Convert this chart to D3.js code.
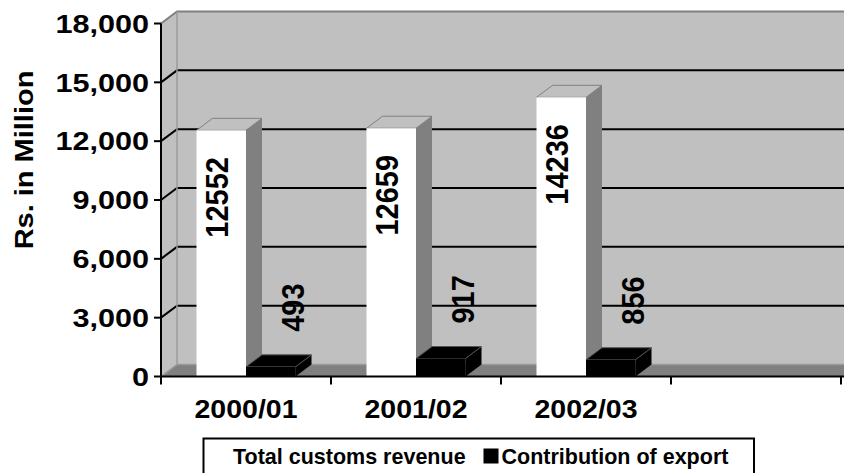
<!DOCTYPE html>
<html>
<head>
<meta charset="utf-8">
<script src="https://cdn.jsdelivr.net/npm/d3@7"></script>
<style>
  html, body { margin: 0; padding: 0; background: #fff; }
  svg { display: block; font-family: "Liberation Sans", Arial, sans-serif; font-weight: bold; }
</style>
</head>
<body>
<svg id="chart" width="844" height="473"></svg>
<script>
// Customs revenue by fiscal year (Rs. in Million)
const categories = ["2000/01", "2001/02", "2002/03"];
const totalRevenue = [12552, 12659, 14236];
const exportContribution = [493, 917, 856];
const seriesNames = ["Total customs revenue", "Contribution of export"];
const yTicks = [0, 3000, 6000, 9000, 12000, 15000, 18000];

const svg = d3.select("#chart");

// Plot frame (front plane) and 3D depth offset
const plotLeft = 161, plotRight = 841, plotTop = 23.5, plotBottom = 376.5;
const depthX = 16, depthY = -12;
const wallGray = "#C0C0C0", darkGray = "#808080";

// The category axis reserves one extra, unused slot on the right.
const x = d3.scaleBand().domain(categories.concat([" "])).range([plotLeft, plotRight]).padding(0);
const y = d3.scaleLinear().domain([0, 18000]).range([plotBottom, plotTop]);
const barW = 49.5;

const poly = pts => "M" + pts.map(p => p.join(",")).join("L") + "Z";

// Back wall
svg.append("path")
  .attr("d", poly([[plotLeft + depthX, plotTop + depthY], [plotRight + depthX + 20, plotTop + depthY],
                   [plotRight + depthX + 20, plotBottom + depthY], [plotLeft + depthX, plotBottom + depthY]]))
  .attr("fill", wallGray);
// Side wall
svg.append("path")
  .attr("d", poly([[plotLeft, plotTop], [plotLeft + depthX, plotTop + depthY], [plotLeft + depthX, plotBottom + depthY], [plotLeft, plotBottom]]))
  .attr("fill", wallGray);
// Floor
svg.append("path")
  .attr("d", poly([[plotLeft, plotBottom], [plotRight + 20, plotBottom], [plotRight + depthX + 20, plotBottom + depthY], [plotLeft + depthX, plotBottom + depthY]]))
  .attr("fill", darkGray);

// Gridlines across side wall and back wall
const grid = yTicks.filter(v => v > 0 && v < 18000);
svg.append("g").selectAll("path").data(grid).join("path")
  .attr("d", v => `M${plotLeft},${y(v)}L${plotLeft + depthX},${y(v) + depthY}L${plotRight + depthX + 20},${y(v) + depthY}`)
  .attr("fill", "none").attr("stroke", "#000").attr("stroke-width", 2);

// Wall edges
svg.append("path")
  .attr("d", `M${plotLeft},${plotTop}L${plotLeft + depthX},${plotTop + depthY}L${plotRight + depthX + 20},${plotTop + depthY}`)
  .attr("fill", "none").attr("stroke", darkGray).attr("stroke-width", 2);
svg.append("path")
  .attr("d", `M${plotLeft + depthX},${plotTop + depthY}L${plotLeft + depthX},${plotBottom + depthY}L${plotRight + depthX + 20},${plotBottom + depthY}`)
  .attr("fill", "none").attr("stroke", "#9a9a9a").attr("stroke-width", 1.5);
svg.append("path")
  .attr("d", `M${plotLeft},${plotBottom}L${plotLeft + depthX},${plotBottom + depthY}`)
  .attr("fill", "none").attr("stroke", "#9a9a9a").attr("stroke-width", 1.5);

// 3D columns
function column(g, x0, v, front, side, topFill, edge) {
  const y0 = y(0), y1 = y(v);
  g.append("path").attr("d", poly([[x0 + barW, y1], [x0 + barW + depthX, y1 + depthY], [x0 + barW + depthX, y0 + depthY], [x0 + barW, y0]]))
    .attr("fill", side);
  g.append("path").attr("d", poly([[x0, y1], [x0 + depthX, y1 + depthY], [x0 + barW + depthX, y1 + depthY], [x0 + barW, y1]]))
    .attr("fill", topFill).attr("stroke", edge).attr("stroke-width", 1);
  g.append("rect").attr("x", x0).attr("y", y1).attr("width", barW).attr("height", y0 - y1).attr("fill", front);
}

const bars = svg.append("g");
categories.forEach((c, i) => {
  const cx = x(c) + x.bandwidth() / 2;
  column(bars, cx - barW, totalRevenue[i], "#FFFFFF", darkGray, wallGray, darkGray);
  column(bars, cx, exportContribution[i], "#000000", "#000000", "#000000", "#555");
});

// Axes
const axis = svg.append("g").attr("stroke", "#000").attr("stroke-width", 2);
axis.append("line").attr("x1", plotLeft).attr("x2", plotLeft).attr("y1", plotTop).attr("y2", plotBottom + 1);
axis.append("line").attr("x1", plotLeft - 1).attr("x2", 844).attr("y1", plotBottom).attr("y2", plotBottom);
axis.selectAll(".yt").data(yTicks).join("line")
  .attr("x1", plotLeft - 7).attr("x2", plotLeft).attr("y1", d => y(d)).attr("y2", d => y(d));
const xEdges = x.domain().map(d => x(d)).concat([plotRight]);
axis.selectAll(".xt").data(xEdges).join("line")
  .attr("x1", d => d).attr("x2", d => d).attr("y1", plotBottom).attr("y2", plotBottom + 8);

// Y tick labels
const fmt = d3.format(",");
svg.append("g").selectAll("text").data(yTicks).join("text")
  .attr("transform", d => `translate(149,${y(d) + 9.2}) scale(1.2,1)`)
  .attr("text-anchor", "end").attr("font-size", 25.5).attr("fill", "#000")
  .text(d => fmt(d));

// Category labels
svg.append("g").selectAll("text").data(categories).join("text")
  .attr("transform", d => `translate(${x(d) + x.bandwidth() / 2},418) scale(1.14,1)`)
  .attr("text-anchor", "middle").attr("font-size", 25).attr("fill", "#000")
  .text(d => d);

// Y axis title
svg.append("text")
  .attr("transform", "translate(33,160) rotate(-90) scale(1.16,1)")
  .attr("text-anchor", "middle").attr("font-size", 25).attr("fill", "#000")
  .text("Rs. in Million");

// Value labels
const labels = svg.append("g").attr("font-size", 29).attr("fill", "#000");
categories.forEach((c, i) => {
  const cx = x(c) + x.bandwidth() / 2;
  labels.append("text")
    .attr("transform", `translate(${cx - barW + 21},${y(totalRevenue[i]) + 67}) rotate(-90) scale(1,1.08)`)
    .attr("text-anchor", "middle").attr("dominant-baseline", "central")
    .text(totalRevenue[i]);
  labels.append("text")
    .attr("transform", `translate(${cx + barW - 2},${y(exportContribution[i]) - 35}) rotate(-90) scale(1,1.08)`)
    .attr("text-anchor", "start").attr("dominant-baseline", "central")
    .text(exportContribution[i]);
});

// Legend
const legend = svg.append("g");
legend.append("rect").attr("x", 203.5).attr("y", 438.5).attr("width", 550.5).attr("height", 45)
  .attr("fill", "#fff").attr("stroke", "#000").attr("stroke-width", 2);
const legendItems = [
  { name: seriesNames[0], color: "#FFFFFF", kx: 215, tx: 233 },
  { name: seriesNames[1], color: "#000000", kx: 483.5, tx: 501.5 }
];
legendItems.forEach(it => {
  legend.append("rect").attr("x", it.kx).attr("y", 448.5).attr("width", 15).attr("height", 15).attr("fill", it.color);
  legend.append("text").attr("x", it.tx).attr("y", 463.5).attr("font-size", 21.5).attr("fill", "#000").text(it.name);
});
</script>
</body>
</html>
